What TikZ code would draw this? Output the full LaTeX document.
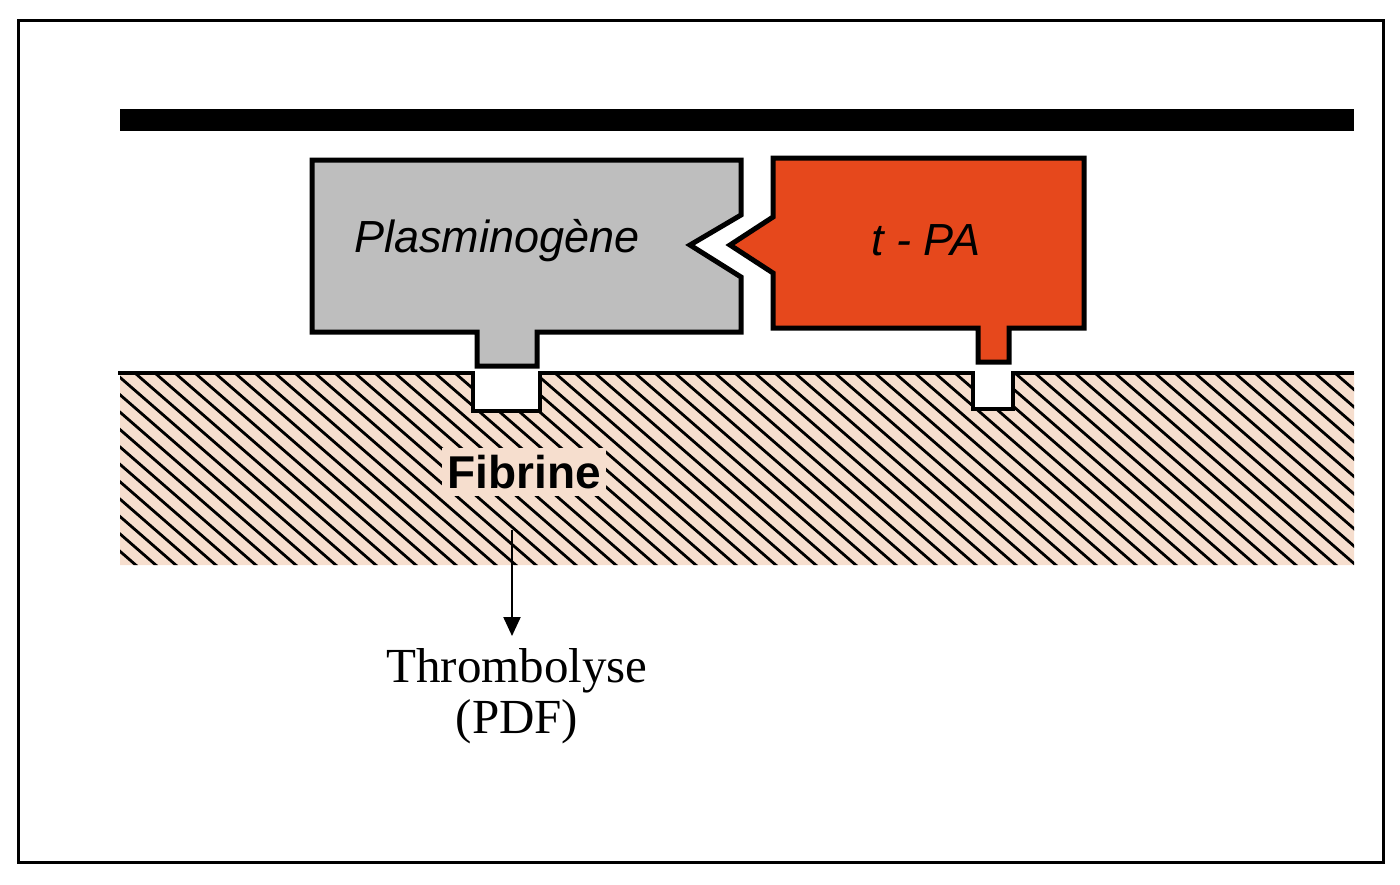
\documentclass[tikz,border=0pt]{standalone}
\usepackage{fontspec}
\setmainfont{Liberation Serif}
\newfontfamily\helv{Liberation Sans}
\usetikzlibrary{arrows.meta}
\definecolor{plgray}{RGB}{190,190,190}
\definecolor{tpared}{RGB}{230,72,28}
\definecolor{peach}{RGB}{246,222,206}
\tikzset{
  outline/.style={draw=black,line width=5pt,line join=miter},
  hatchline/.style={line width=2.8pt,black},
  labelbig/.style={font=\helv\itshape\fontsize{45}{50}\selectfont,inner sep=0pt},
}
\begin{document}
\begin{tikzpicture}[x=1pt,y=-1pt]
\useasboundingbox (0,0) rectangle (1400,884);
% frame
\draw[line width=3pt] (18,20) rectangle (1383,862);
% top bar
\fill[black] (120,109) rectangle (1354,131);
% fibrine region
\def\fibpath{(120,373) -- (473,373) -- (473,411) -- (540,411) -- (540,373) -- (973,373) -- (973,409) -- (1013,409) -- (1013,373) -- (1354,373) -- (1354,565) -- (120,565) -- cycle}
\fill[peach] \fibpath;
\begin{scope}
\clip \fibpath;
\foreach \i in {-300,-280,...,1400} {
  \draw[hatchline] (\i,360) -- (\i+253,580);
}
\end{scope}
\draw[line width=4.5pt,line join=miter] (118,373) -- (473,373) -- (473,411) -- (540,411) -- (540,373) -- (973,373) -- (973,409) -- (1013,409) -- (1013,373) -- (1354,373);
% Plasminogene shape
\draw[outline,fill=plgray] (312,160) -- (741,160) -- (741,215) -- (690,245) -- (741,277) -- (741,332) -- (537,332) -- (537,366) -- (477,366) -- (477,332) -- (312,332) -- cycle;
% t-PA shape
\draw[outline,fill=tpared] (773,158) -- (1084,158) -- (1084,328) -- (1009,328) -- (1009,362) -- (978,362) -- (978,328) -- (773,328) -- (773,273) -- (730,245) -- (773,217) -- cycle;
% labels
\node[labelbig] (plg) at (497,241) {Plasminogène};
\node[labelbig] (tpa) at (926,240) {t - PA};
\node[font=\helv\bfseries\fontsize{46}{50}\selectfont,fill=peach,inner xsep=5pt,inner ysep=7pt] (fib) at (524,472) {Fibrine};
\coordinate (arrstart) at (512,530);
\node[font=\fontsize{49}{51}\selectfont,align=center,inner sep=0pt,anchor=north] (thr) at (517,648) {Thrombolyse\\(PDF)};
\draw[line width=2.2pt,-{Triangle[length=19pt,width=17pt]}] (arrstart) -- (512,636);
\end{tikzpicture}
\end{document}
